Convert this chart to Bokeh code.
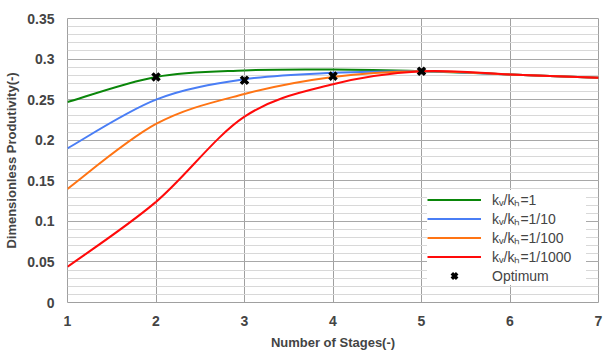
import numpy as np
from bokeh.plotting import figure
from bokeh.models import Range1d, FixedTicker, Legend, LegendItem, CustomJSTickFormatter
from bokeh.embed import file_html
from bokeh.resources import INLINE

stages = [1, 2, 3, 4, 5, 6, 7]
kv1 = [0.247, 0.278, 0.286, 0.287, 0.285, 0.281, 0.277]
kv10 = [0.190, 0.250, 0.275, 0.283, 0.285, 0.281, 0.277]
kv100 = [0.140, 0.220, 0.257, 0.278, 0.285, 0.281, 0.277]
kv1000 = [0.044, 0.124, 0.229, 0.269, 0.285, 0.281, 0.277]
opt_x = [2, 3, 4, 5]
opt_y = [0.278, 0.274, 0.279, 0.285]
y_ticks = [0, 0.05, 0.1, 0.15, 0.2, 0.25, 0.3, 0.35]

names = ["kᵥ/kₕ=1", "kᵥ/kₕ=1/10", "kᵥ/kₕ=1/100", "kᵥ/kₕ=1/1000"]
colors = ["#0a860a", "#4a7ef5", "#ff7414", "#ff0a0a"]
series = [kv1, kv10, kv100, kv1000]

p = figure(width=604, height=352, output_backend="svg", toolbar_location=None,
           x_range=Range1d(1, 7), y_range=Range1d(0, 0.35),
           min_border_left=67, min_border_right=6, min_border_top=18, min_border_bottom=47)
p.outline_line_color = "#a0a0a0"
p.background_fill_color = "white"

p.xaxis.ticker = FixedTicker(ticks=stages)
p.yaxis.ticker = FixedTicker(ticks=y_ticks, minor_ticks=[i / 100 for i in range(36)])
p.yaxis.formatter = CustomJSTickFormatter(code="return String(Math.round(tick*100)/100);")
for ax in (p.xaxis[0], p.yaxis[0]):
    ax.axis_line_color = None
    ax.major_tick_line_color = None
    ax.minor_tick_line_color = None
    ax.major_label_text_font = "Liberation Sans"
    ax.major_label_text_font_style = "bold"
    ax.major_label_text_font_size = "14px"
    ax.axis_label_text_font = "Liberation Sans"
    ax.axis_label_text_font_style = "bold"
    ax.axis_label_text_font_size = "13px"
    ax.major_label_standoff = 7
p.xaxis.axis_label = "Number of Stages(-)"
p.yaxis.axis_label = "Dimensionless Produtivity(-)"
p.xaxis.axis_label_standoff = 6
p.yaxis.axis_label_standoff = 5

p.xgrid.grid_line_color = "#a0a0a0"
p.ygrid.grid_line_color = "#a8a8a8"
p.ygrid.minor_grid_line_color = "#d8d8d8"


def smooth_segments(xs, ys):
    xs = np.asarray(xs, float)
    ys = np.asarray(ys, float)
    n = len(xs)
    x0, y0, x1, y1, cx0, cy0, cx1, cy1 = ([] for _ in range(8))
    for i in range(n - 1):
        a = max(i - 1, 0)
        d = min(i + 2, n - 1)
        x0.append(xs[i]); y0.append(ys[i]); x1.append(xs[i + 1]); y1.append(ys[i + 1])
        cx0.append(xs[i] + (xs[i + 1] - xs[a]) / 6); cy0.append(ys[i] + (ys[i + 1] - ys[a]) / 6)
        cx1.append(xs[i + 1] - (xs[d] - xs[i]) / 6); cy1.append(ys[i + 1] - (ys[d] - ys[i]) / 6)
    return dict(x0=x0, y0=y0, x1=x1, y1=y1, cx0=cx0, cy0=cy0, cx1=cx1, cy1=cy1)


legend_items = []
for name, col, ys in zip(names, colors, series):
    seg = smooth_segments(stages, ys)
    p.bezier(x0="x0", y0="y0", x1="x1", y1="y1", cx0="cx0", cy0="cy0", cx1="cx1", cy1="cy1",
             source=seg, line_color=col, line_width=2)
    # legend proxy kept outside the visible range
    r = p.line([-10, -9], [-1, -1], line_color=col, line_width=2)
    legend_items.append(LegendItem(label=name, renderers=[r]))

opt = p.scatter(opt_x, opt_y, marker="x", size=10, line_width=3.5, line_color="black")
legend_items.append(LegendItem(label="Optimum", renderers=[opt]))

legend = Legend(items=legend_items, location=(360, 17), glyph_width=54, glyph_height=19,
                label_height=19, label_width=94, spacing=0, label_standoff=11, padding=6,
                margin=0, border_line_color=None, background_fill_alpha=1.0,
                label_text_font="Liberation Sans", label_text_font_size="14px")
p.add_layout(legend, "center")

open("out.html", "w").write(file_html(p, INLINE))
